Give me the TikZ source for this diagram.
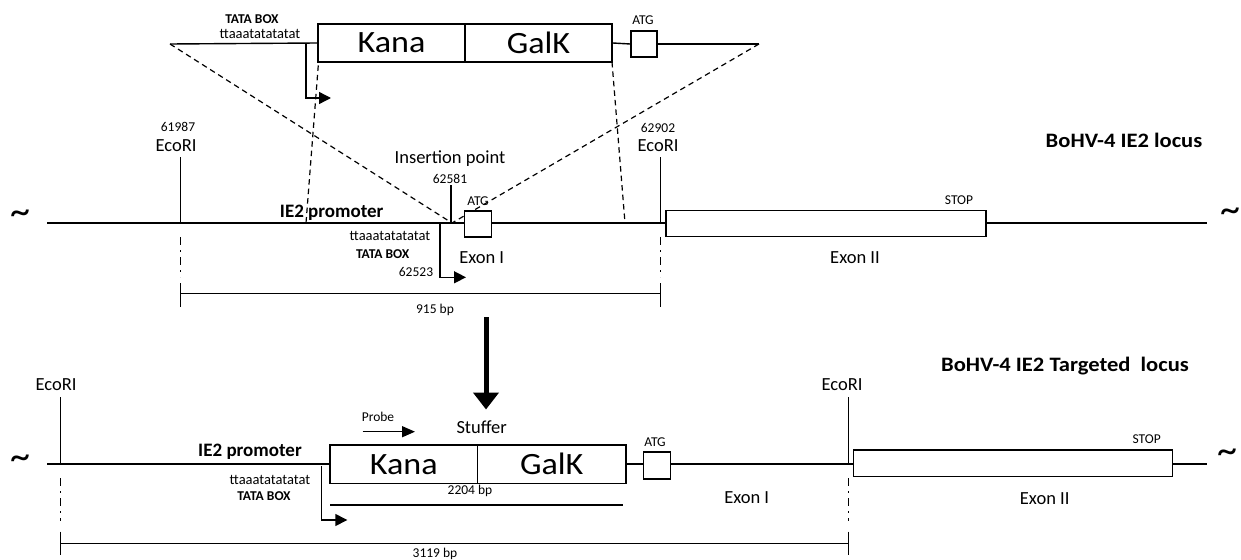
\documentclass[tikz,border=0pt]{standalone}
\usepackage{fontspec}
\setmainfont{Carlito}
\usetikzlibrary{arrows.meta}
\begin{document}
\begin{tikzpicture}[x=1pt,y=-1pt,
  ln/.style={line width=1.4pt},
  bx/.style={draw,line width=1.4pt,inner sep=0pt,fill=white},
  dsh/.style={line width=1.2pt,dash pattern=on 5.5pt off 4pt},
  dd/.style={line width=1.2pt,dash pattern=on 8pt off 5pt on 2pt off 5pt},
  big/.style={font=\fontsize{31}{31}\selectfont},
  bigtxt/.style={big,xscale=1.1,transform shape,inner sep=0pt},
  mid/.style={font=\fontsize{18.5}{20}\selectfont},
  midb/.style={font=\bfseries\fontsize{19}{20}\selectfont},
  sm/.style={font=\fontsize{13.5}{15}\selectfont},
  tt/.style={font=\fontsize{14.5}{16}\selectfont},
  smb/.style={font=\bfseries\fontsize{13.5}{15}\selectfont},
  ttl/.style={font=\bfseries\fontsize{20.5}{22}\selectfont,xscale=1.1,transform shape},
  tilde/.style={font=\fontsize{40}{40}\selectfont},
  tip/.style={-{Triangle[length=12pt,width=12pt]}},
]
\useasboundingbox (0,0) rectangle (1241,559);

% ---------- top construct ----------
\coordinate (tl) at (170,44);
\coordinate (tr) at (759,44);
\coordinate (ins) at (452,223);
\coordinate (kbl) at (319,56);
\coordinate (kbm) at (306,223);
\coordinate (gbr) at (612,62);
\coordinate (gbm) at (625,223);
\draw[dsh] (tl) -- (ins);
\draw[dsh] (tr) -- (ins);
\draw[dsh] (kbl) -- (kbm);
\draw[dsh] (gbr) -- (gbm);

\node[bx,minimum width=147,minimum height=38] (kana1) at (391.5,43) {};
\node[bx,minimum width=147,minimum height=38] (galk1) at (538.5,43) {};
\node[bigtxt] (kana1t) at (kana1.center) {Kana};
\node[bigtxt] (galk1t) at (galk1.center) {GalK};
\node[bx,minimum width=26,minimum height=26] (atg1) at (644,44) {};
\draw[ln] (tl) -- (kana1.west);
\draw[ln] (galk1.east) -- (atg1.west);
\draw[ln] (atg1.east) -- (tr);
\node[smb] (tata1) at (252,19) {TATA BOX};
\node[tt] (seq1) at (260,34) {ttaaatatatatat};
\node[sm] (atgl1) at (643,20) {ATG};
\coordinate (p1a) at (306,44);
\coordinate (p1b) at (306,98);
\coordinate (p1c) at (331,98);
\draw[ln,tip] (p1a) -- (p1b) -- (p1c);

% ---------- BoHV-4 IE2 locus ----------
\node[tilde] (tl1) at (20,217) {\char"7E};
\node[tilde] (tr1) at (1230,215) {\char"7E};
\coordinate (m1s) at (47,223);
\coordinate (m1e) at (1207,223);
\node[bx,minimum width=27,minimum height=26] (ex1) at (478,224) {};
\node[bx,minimum width=320,minimum height=26] (ex2) at (826,223.7) {};
\draw[ln] (m1s) -- (ex1.west |- m1s);
\draw[ln] (ex1.east |- m1s) -- (ex2.west |- m1s);
\draw[ln] (ex2.east |- m1s) -- (m1e);

\coordinate (e1a) at (180.7,157);
\coordinate (e1b) at (180.7,223);
\coordinate (e2a) at (660.7,157);
\coordinate (e2b) at (660.7,223);
\draw[ln] (e1a) -- (e1b);
\draw[ln] (e2a) -- (e2b);
\node[sm] (n61987) at (178,127) {61987};
\node[mid] (eco1) at (176,146) {EcoRI};
\node[sm] (n62902) at (658,128) {62902};
\node[mid] (eco2) at (658,146) {EcoRI};
\node[mid] (insl) at (450,159) {Insertion point};
\node[sm] (n62581) at (450,179) {62581};
\coordinate (ia) at (451,185);
\coordinate (ib) at (451,223);
\draw[ln] (ia) -- (ib);

\node[midb] (prom1) at (331.7,212.7) {IE2 promoter};
\node[tt] (seq2) at (390,236) {ttaaatatatatat};
\node[smb] (tata2) at (382.7,254) {TATA BOX};
\node[sm] (n62523) at (416,271.7) {62523};
\coordinate (p2a) at (440,223);
\coordinate (p2b) at (440,277.3);
\coordinate (p2c) at (466,277.3);
\draw[ln,tip] (p2a) -- (p2b) -- (p2c);
\node[sm] (atgl2) at (478,201) {ATG};
\node[mid] (exI1) at (481.7,257.3) {Exon I};
\node[sm] (stop1) at (959,200) {STOP};
\node[mid] (exII1) at (855,257.7) {Exon II};
\node[ttl] (title1) at (1124,140) {BoHV-4 IE2 locus};

% bracket 915 bp
\coordinate (d1a) at (180.7,237);
\coordinate (d1b) at (180.7,277);
\coordinate (d2a) at (660.7,237);
\coordinate (d2b) at (660.7,277);
\draw[dd] (d1a) -- (d1b);
\draw[dd] (d2a) -- (d2b);
\coordinate (b1t) at (180.7,283);
\coordinate (b1m) at (180.7,293.3);
\coordinate (b1b) at (180.7,307);
\coordinate (b2t) at (660.7,283);
\coordinate (b2m) at (660.7,293.3);
\coordinate (b2b) at (660.7,307);
\draw[ln] (b1t) -- (b1b);
\draw[ln] (b2t) -- (b2b);
\draw[ln] (b1m) -- (b2m);
\node[sm] (bp915) at (435,309.5) {915 bp};

% big arrow
\coordinate (ba) at (486,317);
\coordinate (bb) at (486,409.5);
\draw[line width=5pt,-{Triangle[length=17pt,width=25pt]}] (ba) -- (bb);

% ---------- targeted locus ----------
\node[tilde] (tl2) at (20,462) {\char"7E};
\node[tilde] (tr2) at (1227,456) {\char"7E};
\coordinate (m2s) at (47,464);
\coordinate (m2e) at (1207,464);
\node[bx,minimum width=147.3,minimum height=38.3] (kana2) at (403.7,464.2) {};
\node[bx,minimum width=148.7,minimum height=38.3] (galk2) at (551.7,464.2) {};
\node[bigtxt] (kana2t) at (kana2.center) {Kana};
\node[bigtxt] (galk2t) at (galk2.center) {GalK};
\node[bx,minimum width=27,minimum height=27] (atg2) at (656.7,465.3) {};
\node[bx,minimum width=319.4,minimum height=26.7] (ex3) at (1013,463.3) {};
\draw[ln] (m2s) -- (kana2.west |- m2s);
\draw[ln] (galk2.east |- m2s) -- (atg2.west |- m2s);
\draw[ln] (atg2.east |- m2s) -- (ex3.west |- m2s);
\draw[ln] (ex3.east |- m2s) -- (m2e);

\coordinate (e3a) at (60.7,397);
\coordinate (e3b) at (60.7,464);
\coordinate (e4a) at (848.3,397);
\coordinate (e4b) at (848.3,464);
\draw[ln] (e3a) -- (e3b);
\draw[ln] (e4a) -- (e4b);
\node[mid] (eco3) at (56,385) {EcoRI};
\node[mid] (eco4) at (842,385) {EcoRI};
\node[ttl] (title2) at (1065,366) {BoHV-4 IE2 Targeted\ \ locus};

\node[midb] (prom2) at (250,451.7) {IE2 promoter};
\node[tt] (seq3) at (270,480) {ttaaatatatatat};
\node[smb] (tata3) at (264,495.7) {TATA BOX};
\coordinate (p3a) at (321.7,466);
\coordinate (p3b) at (321.7,520);
\coordinate (p3c) at (347.3,520);
\draw[ln,tip] (p3a) -- (p3b) -- (p3c);

\node[sm] (probe) at (378,417) {Probe};
\coordinate (pra) at (362.7,431.7);
\coordinate (prb) at (415,431.7);
\draw[ln,-{Triangle[length=13pt,width=11pt]}] (pra) -- (prb);
\node[mid] (stuff) at (481.7,426.7) {Stuffer};
\node[sm] (bp2204) at (470,490.5) {2204 bp};
\coordinate (s1) at (330,505);
\coordinate (s2) at (623,505);
\draw[ln] (s1) -- (s2);
\node[sm] (atgl3) at (655,441.7) {ATG};
\node[mid] (exI2) at (746.7,497.3) {Exon I};
\node[sm] (stop2) at (1146.7,439.3) {STOP};
\node[mid] (exII2) at (1044.7,499) {Exon II};

% bracket 3119 bp
\coordinate (d3a) at (60.7,478);
\coordinate (d3b) at (60.7,521);
\coordinate (d4a) at (848.3,478);
\coordinate (d4b) at (848.3,521);
\draw[dd] (d3a) -- (d3b);
\draw[dd] (d4a) -- (d4b);
\coordinate (b3t) at (60.7,531.7);
\coordinate (b3m) at (60.7,543.3);
\coordinate (b3b) at (60.7,555);
\coordinate (b4t) at (848.3,531.7);
\coordinate (b4m) at (848.3,543.3);
\coordinate (b4b) at (848.3,555);
\draw[ln] (b3t) -- (b3b);
\draw[ln] (b4t) -- (b4b);
\draw[ln] (b3m) -- (b4m);
\node[sm] (bp3119) at (435,554) {3119 bp};
\end{tikzpicture}
\end{document}
